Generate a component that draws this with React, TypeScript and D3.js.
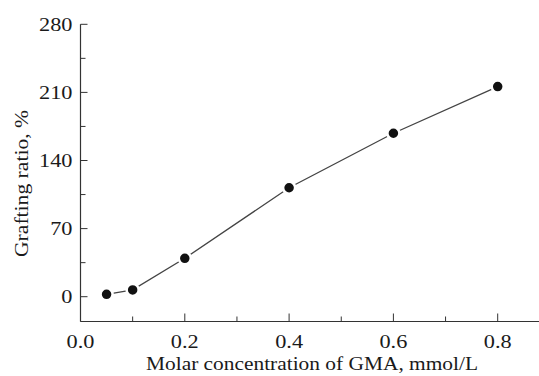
import React, { useEffect, useRef } from 'react';
import * as d3 from 'd3';

const concentrations = [0.05, 0.1, 0.2, 0.4, 0.6, 0.8];
const graftingRatios = [2.5, 7, 39.5, 112, 168, 216];
const yTicks = [0, 70, 140, 210, 280];
const xTicks = [0, 0.2, 0.4, 0.6, 0.8];

const Chart = () => {
  const ref = useRef<SVGSVGElement>(null);

  useEffect(() => {
    drawChart();
  }, []);

  const drawChart = () => {
    const svg = d3.select(ref.current);
    svg.selectAll('*').remove();

    const left = 80.5;
    const right = 539;
    const bottom = 321.5;
    const font = '"Liberation Serif", "Times New Roman", serif';
    const ink = '#1a1a1a';

    const x = d3.scaleLinear().domain([0, 0.8]).range([left, 497.7]);
    const y = d3.scaleLinear().domain([0, 280]).range([296.7, 24.3]);

    const data = concentrations.map((c, i) => ({ c, v: graftingRatios[i] }));

    // axes (left + bottom only)
    svg.append('line')
      .attr('x1', left).attr('x2', left)
      .attr('y1', y(280)).attr('y2', bottom)
      .attr('stroke', '#333').attr('stroke-width', 1.2);
    svg.append('line')
      .attr('x1', left).attr('x2', right)
      .attr('y1', bottom).attr('y2', bottom)
      .attr('stroke', '#333').attr('stroke-width', 1.2);

    // y ticks, pointing inward
    const yMinor = d3.range(35, 280, 70);
    svg.selectAll('.ymaj').data(yTicks).join('line')
      .attr('x1', left).attr('x2', left + 7)
      .attr('y1', d => y(d)).attr('y2', d => y(d))
      .attr('stroke', '#333').attr('stroke-width', 1);
    svg.selectAll('.ymin').data(yMinor).join('line')
      .attr('x1', left).attr('x2', left + 5)
      .attr('y1', d => y(d)).attr('y2', d => y(d))
      .attr('stroke', '#333').attr('stroke-width', 1);

    svg.selectAll('.ylab').data(yTicks).join('text')
      .attr('transform', d => `translate(72.5,${y(d)}) scale(1.24,1)`)
      .attr('dy', '0.35em')
      .attr('text-anchor', 'end')
      .attr('font-family', font).attr('font-size', 18)
      .attr('fill', ink)
      .text(d => d);

    // x ticks
    const xMinor = [0.1, 0.3, 0.5, 0.7];
    svg.selectAll('.xmaj').data(xTicks).join('line')
      .attr('x1', d => x(d)).attr('x2', d => x(d))
      .attr('y1', bottom).attr('y2', bottom - 8)
      .attr('stroke', '#333').attr('stroke-width', 1);
    svg.selectAll('.xmin').data(xMinor).join('line')
      .attr('x1', d => x(d)).attr('x2', d => x(d))
      .attr('y1', bottom).attr('y2', bottom - 5)
      .attr('stroke', '#333').attr('stroke-width', 1);

    svg.selectAll('.xlab').data(xTicks).join('text')
      .attr('transform', d => `translate(${x(d)},341.5) scale(1.24,1)`)
      .attr('dy', '0.35em')
      .attr('text-anchor', 'middle')
      .attr('font-family', font).attr('font-size', 18)
      .attr('fill', ink)
      .text(d => d3.format('.1f')(d));

    // titles
    svg.append('text')
      .attr('x', 146).attr('y', 370)
      .attr('textLength', 332)
      .attr('lengthAdjust', 'spacingAndGlyphs')
      .attr('font-family', font).attr('font-size', 19)
      .attr('fill', ink)
      .text('Molar concentration of GMA, mmol/L');
    svg.append('text')
      .attr('transform', 'translate(28,257) rotate(-90)')
      .attr('textLength', 147)
      .attr('lengthAdjust', 'spacingAndGlyphs')
      .attr('font-family', font).attr('font-size', 19)
      .attr('fill', ink)
      .text('Grafting ratio, %');

    // line + markers (white halo leaves a gap at each marker)
    const line = d3.line<{ c: number; v: number }>()
      .x(d => x(d.c))
      .y(d => y(d.v));
    svg.append('path')
      .datum(data)
      .attr('d', line)
      .attr('fill', 'none')
      .attr('stroke', '#444')
      .attr('stroke-width', 1.3);

    svg.selectAll('circle').data(data).join('circle')
      .attr('cx', d => x(d.c))
      .attr('cy', d => y(d.v))
      .attr('r', 6)
      .attr('fill', '#111')
      .attr('stroke', '#fff')
      .attr('stroke-width', 2.5);
  };

  return (
    <svg
      ref={ref}
      width={539}
      height={376}
      style={{ position: 'absolute', left: 0, top: 0, background: '#fff' }}
    />
  );
};

export default function App() {
  return <Chart />;
}
